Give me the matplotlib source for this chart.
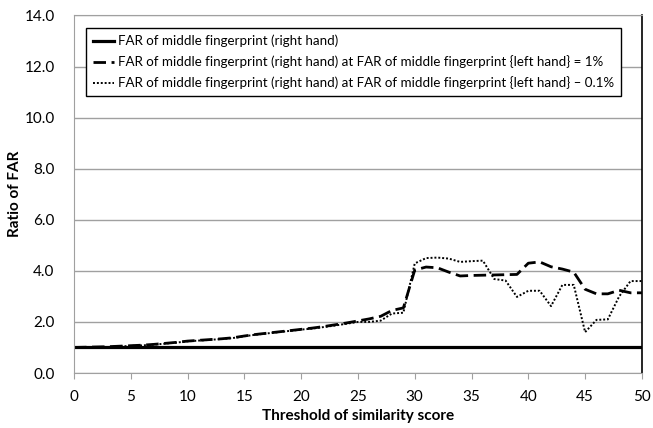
import numpy as np
from matplotlib import pyplot as plt

plt.rcParams['font.family'] = ['Lato', 'DejaVu Sans']

# 相似度阈值
threshold = np.arange(0, 51)

# 右手中指 FAR 比值（基准）
far_right = [1.0] * 51

# 左手 FAR = 1% 时
far_left_1 = [1.00, 1.01, 1.02, 1.03, 1.05, 1.07, 1.09, 1.12, 1.16, 1.20,
              1.25, 1.28, 1.31, 1.34, 1.38, 1.45, 1.51, 1.56, 1.61, 1.66,
              1.71, 1.76, 1.82, 1.89, 1.96, 2.04, 2.12, 2.22, 2.45, 2.55,
              4.03, 4.15, 4.12, 3.95, 3.80, 3.82, 3.83, 3.84, 3.85, 3.86,
              4.30, 4.35, 4.16, 4.07, 3.95, 3.28, 3.10, 3.10, 3.24, 3.14,
              3.14]

# 左手 FAR = 0.1% 时
far_left_01 = [1.00, 1.00, 1.01, 1.02, 1.04, 1.06, 1.08, 1.11, 1.15, 1.19,
               1.24, 1.27, 1.30, 1.33, 1.37, 1.44, 1.50, 1.55, 1.60, 1.65,
               1.70, 1.74, 1.80, 1.86, 1.93, 2.00, 2.00, 2.05, 2.33, 2.36,
               4.29, 4.50, 4.52, 4.48, 4.35, 4.38, 4.40, 3.68, 3.62, 2.98,
               3.22, 3.22, 2.62, 3.45, 3.45, 1.60, 2.08, 2.10, 3.00, 3.60,
               3.60]

labels = ['FAR of middle fingerprint (right hand)',
          'FAR of middle fingerprint (right hand) at FAR of middle fingerprint {left hand} = 1%',
          'FAR of middle fingerprint (right hand) at FAR of middle fingerprint {left hand} – 0.1%']

fig = plt.figure(figsize=(6.53, 4.28), dpi=100)
ax = fig.add_axes([0.1133, 0.1285, 0.8697, 0.8353])

ax.plot(threshold, far_right, c='k', lw=2.3, label=labels[0])
ax.plot(threshold, far_left_1, c='k', lw=2.0, dashes=(4.5, 2), label=labels[1])
ax.plot(threshold, far_left_01, c='k', lw=1.4, ls=(0, (1, 1)), label=labels[2])

ax.set_xlim(0, 50)
ax.set_ylim(0, 14)
ax.set_xticks(np.arange(0, 51, 5))
ax.set_yticks(np.arange(0, 15, 2))
ax.set_yticklabels(['%.1f' % v for v in np.arange(0, 15, 2)])
ax.grid(axis='y', color='#a0a0a0', lw=1)
ax.set_axisbelow(True)

for s in ['left', 'bottom', 'top']:
    ax.spines[s].set_color('#a0a0a0')
ax.spines['right'].set_color('k')
ax.spines['right'].set_linewidth(1.2)

ax.tick_params(axis='x', length=4, color='#a0a0a0', labelsize=11, pad=8)
ax.tick_params(axis='y', length=0, labelsize=11, pad=14)

ax.set_xlabel('Threshold of similarity score', fontsize=11, fontweight='bold', labelpad=4)
ax.set_ylabel('Ratio of FAR', fontsize=11, fontweight='bold', labelpad=2)

leg = ax.legend(loc='upper left', bbox_to_anchor=(0.01, 0.983), fontsize=9.6,
                handlelength=1.6, handletextpad=0.3, labelspacing=0.6,
                borderpad=0.5, fancybox=False, framealpha=1, edgecolor='k')
leg.get_frame().set_linewidth(1.0)

plt.savefig('out.png', dpi=100)
